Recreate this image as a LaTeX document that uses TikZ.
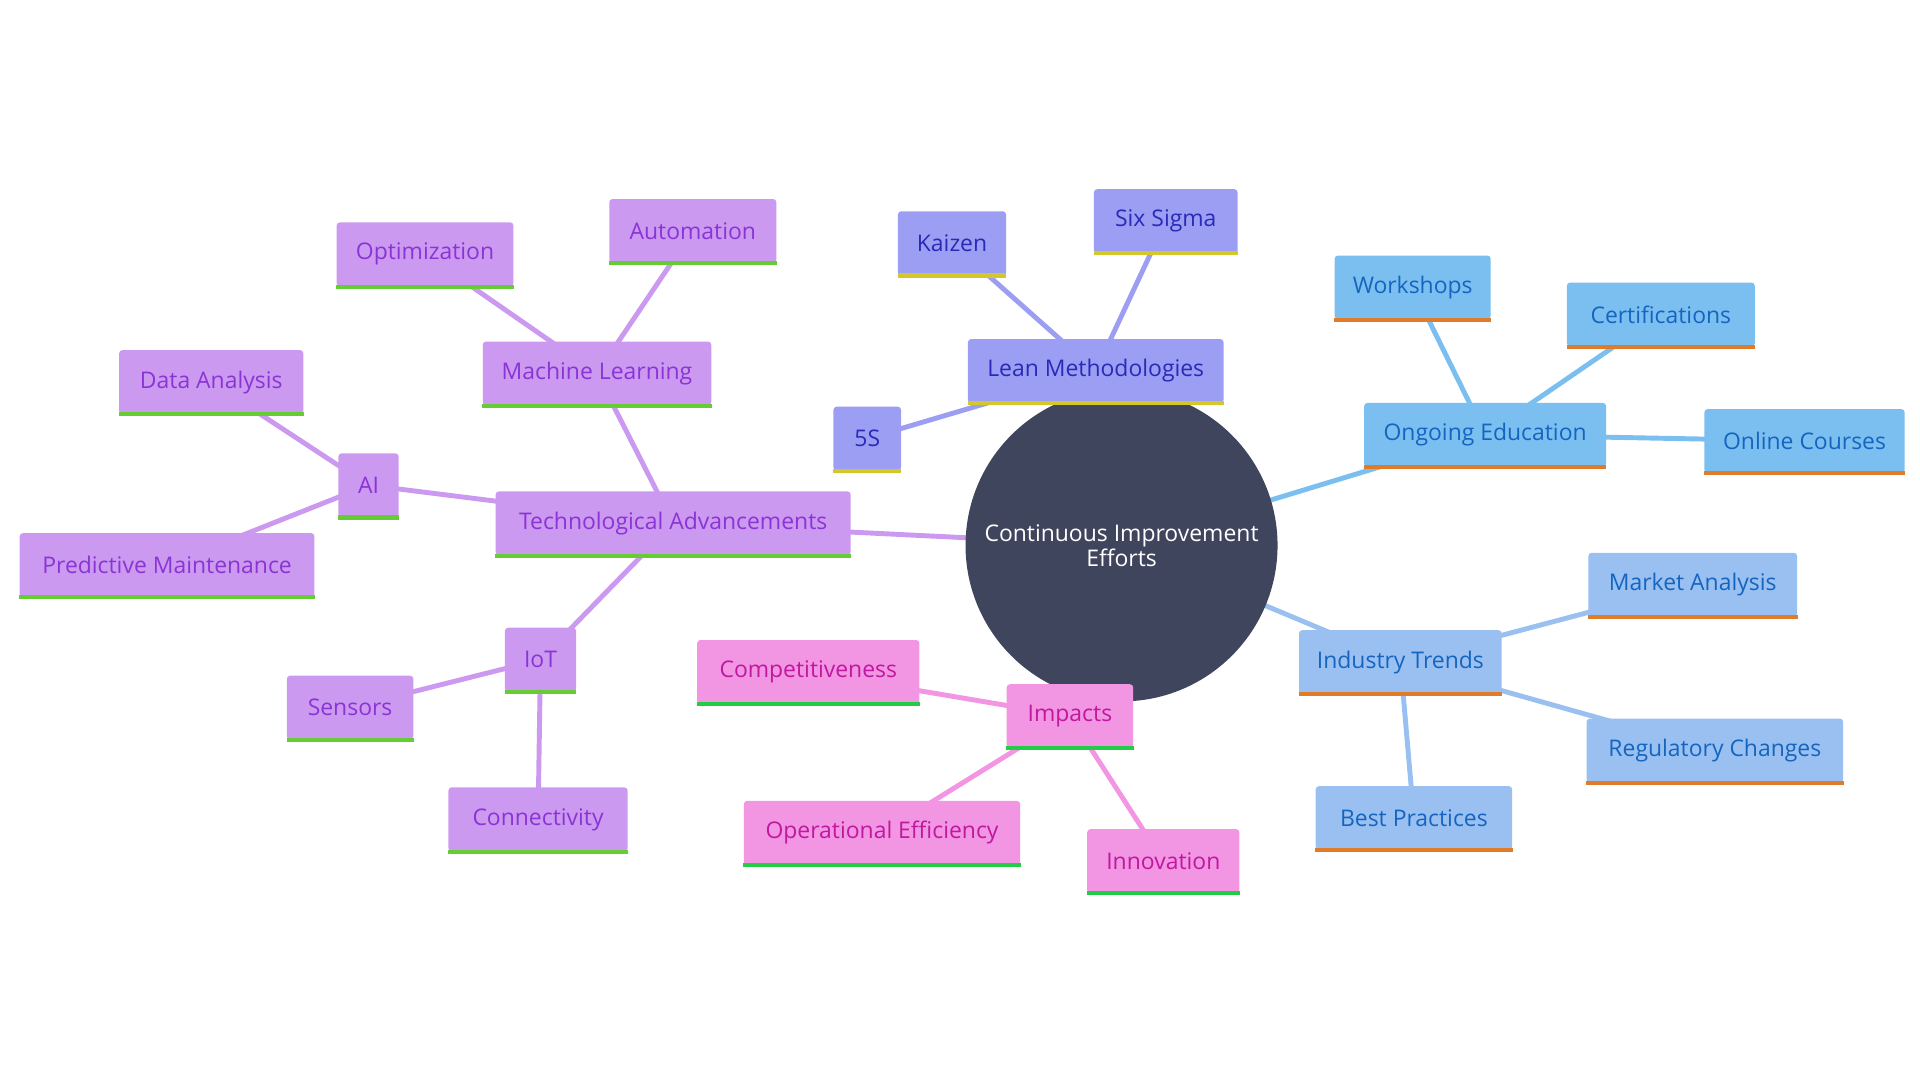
\documentclass[tikz,border=0pt]{standalone}
\usepackage{fontspec}
\setmainfont{Open Sans}
\pgfdeclarelayer{bg}
\pgfsetlayers{bg,main}
\definecolor{techfill}{HTML}{CC99F0}
\definecolor{techtext}{HTML}{8A34D6}
\definecolor{techline}{HTML}{66CC33}
\definecolor{leanfill}{HTML}{9B9EF2}
\definecolor{leantext}{HTML}{2A2AB8}
\definecolor{leanline}{HTML}{D4C72A}
\definecolor{edufill}{HTML}{7BBFF0}
\definecolor{indfill}{HTML}{99C0F0}
\definecolor{edutext}{HTML}{1565C0}
\definecolor{eduline}{HTML}{E07B2A}
\definecolor{impfill}{HTML}{F295E3}
\definecolor{imptext}{HTML}{C0189E}
\definecolor{impline}{HTML}{22CC44}
\definecolor{hubfill}{HTML}{40455E}
\tikzset{
  box/.style={rectangle, rounded corners=2pt, minimum height=39pt, inner sep=0pt,
    font=\fontsize{14}{16}\selectfont},
  techbox/.style={box, fill=techfill, text=techtext},
  leanbox/.style={box, fill=leanfill, text=leantext},
  edubox/.style={box, fill=edufill, text=edutext},
  indbox/.style={box, fill=indfill, text=edutext},
  impbox/.style={box, fill=impfill, text=imptext},
  techbar/.style={techline, line width=2.5pt},
  leanbar/.style={leanline, line width=2.5pt},
  edubar/.style={eduline, line width=2.5pt},
  indbar/.style={eduline, line width=2.5pt},
  impbar/.style={impline, line width=2.5pt},
  link/.style={line width=3pt}
}
% name, x, y, width, text, kind
\newcommand\mnode[6]{%
  \node[#6box, minimum width=#4*0.75pt] (#1) at (#2,#3) {#5};
  \draw[#6bar] (#1.south west) -- (#1.south east);
}
\begin{document}
\begin{tikzpicture}[x=0.75pt,y=-0.75pt]
\useasboundingbox (0,0) rectangle (1563,879);

\node[circle, fill=hubfill, minimum size=254*0.75pt, text=white, align=center,
  font=\fontsize{14}{15}\selectfont] (hub) at (913,444) {Continuous Improvement\\Efforts};

% lean
\mnode{lean}{892}{302}{208}{Lean Methodologies}{lean}
\mnode{kaizen}{775}{198}{88}{Kaizen}{lean}
\mnode{sixsigma}{949}{180}{117}{Six Sigma}{lean}
\mnode{fives}{706}{357}{55}{5S}{lean}
% education
\mnode{edu}{1209}{354}{197}{Ongoing Education}{edu}
\mnode{workshops}{1150}{234}{127}{Workshops}{edu}
\mnode{certs}{1352}{256}{153}{Certifications}{edu}
\mnode{online}{1469}{359}{163}{Online Courses}{edu}
% industry
\mnode{ind}{1140}{539}{165}{Industry Trends}{ind}
\mnode{market}{1378}{476}{170}{Market Analysis}{ind}
\mnode{regul}{1396}{611}{209}{Regulatory Changes}{ind}
\mnode{best}{1151}{666}{160}{Best Practices}{ind}
% impacts
\mnode{imp}{871}{583}{103}{Impacts}{imp}
\mnode{compet}{658}{547}{181}{Competitiveness}{imp}
\mnode{opeff}{718}{678}{225}{Operational Efficiency}{imp}
\mnode{innov}{947}{701}{124}{Innovation}{imp}
% technology
\mnode{tech}{548}{426}{289}{Technological Advancements}{tech}
\mnode{ml}{486}{304}{186}{Machine Learning}{tech}
\mnode{optim}{346}{207}{144}{Optimization}{tech}
\mnode{autom}{564}{188}{136}{Automation}{tech}
\mnode{ai}{300}{395}{49}{AI}{tech}
\mnode{data}{172}{311}{150}{Data Analysis}{tech}
\mnode{predict}{136}{460}{240}{Predictive Maintenance}{tech}
\mnode{iot}{440}{537}{58}{IoT}{tech}
\mnode{sensors}{285}{576}{103}{Sensors}{tech}
\mnode{connect}{438}{667}{146}{Connectivity}{tech}

\begin{pgfonlayer}{bg}
\draw[link, leanfill] (hub.center) -- (lean.center) (lean.center) -- (kaizen.center)
  (lean.center) -- (sixsigma.center) (lean.center) -- (fives.center);
\draw[link, edufill] (hub.center) -- (edu.center) (edu.center) -- (workshops.center)
  (edu.center) -- (certs.center) (edu.center) -- (online.center);
\draw[link, indfill] (hub.center) -- (ind.center) (ind.center) -- (market.center)
  (ind.center) -- (regul.center) (ind.center) -- (best.center);
\draw[link, impfill] (hub.center) -- (imp.center) (imp.center) -- (compet.center)
  (imp.center) -- (opeff.center) (imp.center) -- (innov.center);
\draw[link, techfill] (hub.center) -- (tech.center) (tech.center) -- (ml.center)
  (ml.center) -- (optim.center) (ml.center) -- (autom.center)
  (tech.center) -- (ai.center) (ai.center) -- (data.center) (ai.center) -- (predict.center)
  (tech.center) -- (iot.center) (iot.center) -- (sensors.center) (iot.center) -- (connect.center);
\end{pgfonlayer}
\end{tikzpicture}
\end{document}
